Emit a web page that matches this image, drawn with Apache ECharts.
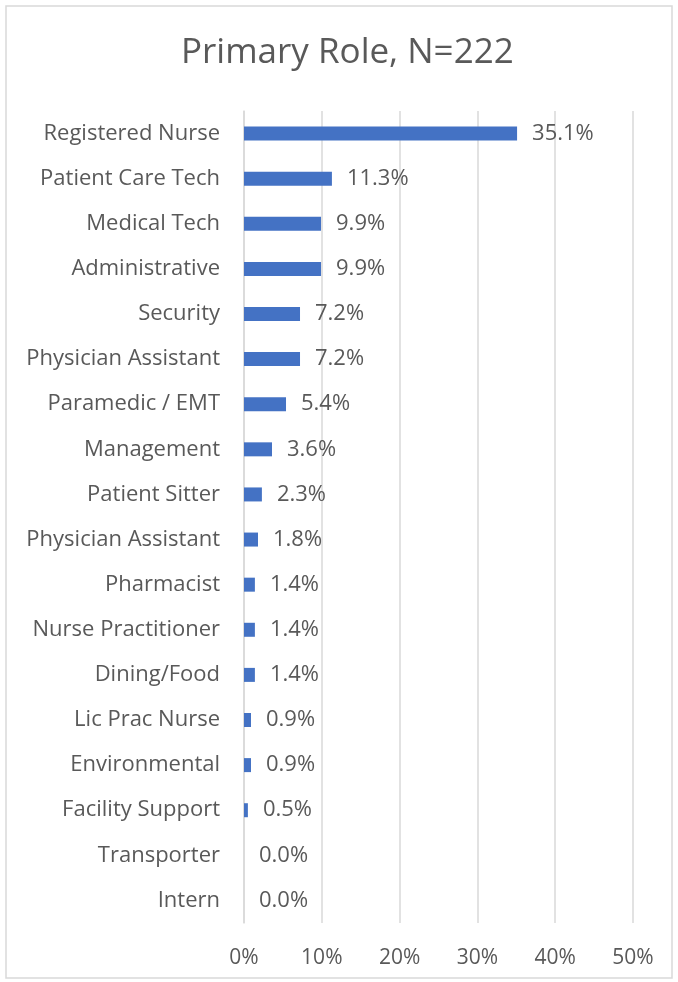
<!DOCTYPE html>
<html>
<head>
<meta charset="utf-8">
<script src="https://cdn.jsdelivr.net/npm/echarts@6/dist/echarts.min.js"></script>
<style>
  html, body { margin: 0; padding: 0; background: #fff; }
  #chart { width: 678px; height: 982px; }
</style>
</head>
<body>
<div id="chart"></div>
<script>
// categories, top to bottom
var roles = ['Registered Nurse', 'Patient Care Tech', 'Medical Tech', 'Administrative', 'Security',
  'Physician Assistant', 'Paramedic / EMT', 'Management', 'Patient Sitter', 'Physician Assistant',
  'Pharmacist', 'Nurse Practitioner', 'Dining/Food', 'Lic Prac Nurse', 'Environmental',
  'Facility Support', 'Transporter', 'Intern'];
// percent of respondents
var shares = [35.1, 11.3, 9.9, 9.9, 7.2, 7.2, 5.4, 3.6, 2.3, 1.8, 1.4, 1.4, 1.4, 0.9, 0.9, 0.5, 0.0, 0.0];
var xTicks = [0, 10, 20, 30, 40, 50];

var font = '"Open Sans", sans-serif';
var grey = '#595959';

var myChart = echarts.init(document.getElementById('chart'), null, { renderer: 'canvas' });

var option = {
    animation: false,
    title: {
        text: 'Primary Role, N=222',
        left: 176,
        top: 31,
        textStyle: { fontFamily: font, fontSize: 35, fontWeight: 'normal', color: grey }
    },
    graphic: [{
        type: 'rect',
        shape: { x: 6, y: 6, width: 666, height: 972 },
        style: { fill: 'none', stroke: '#d9d9d9', lineWidth: 1.5 },
        silent: true
    }],
    grid: { left: 244, right: 45, top: 111, bottom: 59 },
    xAxis: {
        type: 'value',
        min: xTicks[0],
        max: xTicks[xTicks.length - 1],
        interval: 10,
        axisLine: { show: false },
        axisTick: { show: false },
        splitLine: { lineStyle: { color: '#d9d9d9', width: 1.5 } },
        axisLabel: {
            margin: 25,
            fontFamily: font, fontSize: 21, color: grey,
            formatter: function (v) { return v + '%'; }
        }
    },
    yAxis: {
        type: 'category',
        inverse: true,
        data: roles,
        axisLine: { show: true, lineStyle: { color: '#d9d9d9', width: 1.5 } },
        axisTick: { show: false },
        axisLabel: {
            margin: 24,
            fontFamily: font, fontSize: 22, color: grey
        }
    },
    series: [{
        type: 'bar',
        data: shares,
        barWidth: 14,
        itemStyle: { color: '#4472c4' },
        label: {
            show: true,
            position: 'right',
            distance: 15,
            fontFamily: font, fontSize: 22, color: grey,
            formatter: function (p) { return p.value.toFixed(1) + '%'; }
        }
    }]
};

myChart.setOption(option);
</script>
</body>
</html>
